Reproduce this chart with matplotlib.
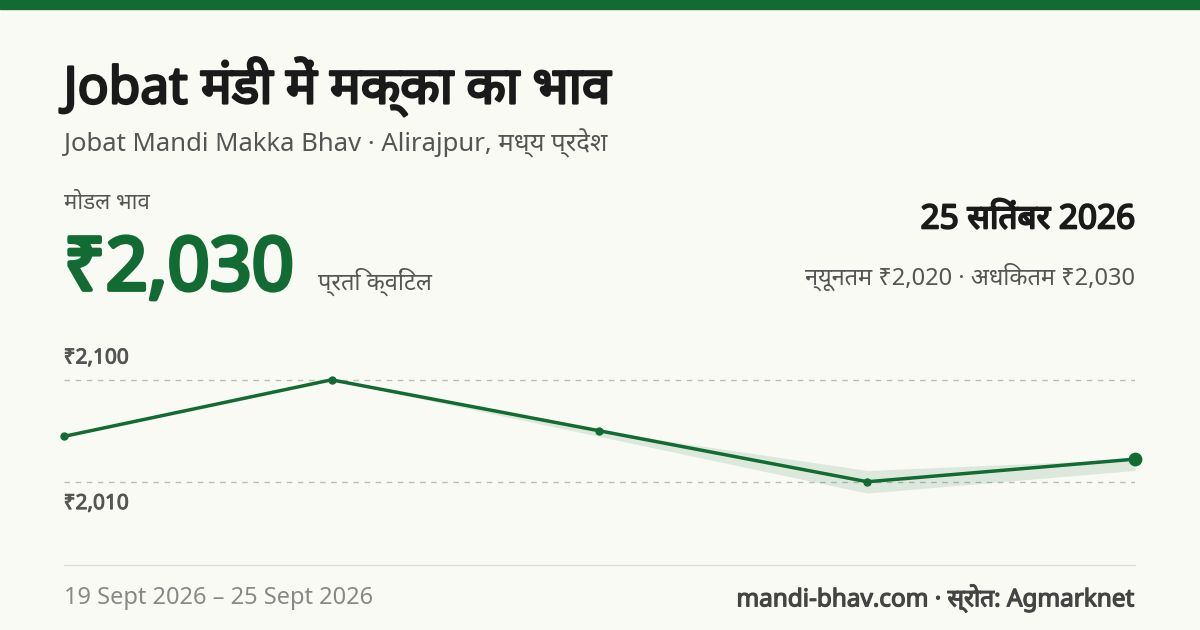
import matplotlib.pyplot as plt
import matplotlib.patheffects as pe

plt.rcParams['font.family'] = ['Noto Sans', 'DejaVu Sans']

dates = ["19 Sept", "21 Sept", "23 Sept", "24 Sept", "25 Sept"]
modal = [2050, 2100, 2055, 2010, 2030]
low = [2050, 2100, 2050, 2000, 2020]
high = [2050, 2100, 2055, 2020, 2030]
ticks = [2010, 2100]
tick_labels = ["₹2,010", "₹2,100"]

green = "#136b34"
bg = "#fafaf5"


def bold(c, w=1.4):
    return [pe.withStroke(linewidth=w, foreground=c)]


fig = plt.figure(figsize=(12, 6.3), dpi=100, facecolor=bg)
fig.add_artist(plt.Rectangle((0, 0.985), 1, 0.015, color=green, transform=fig.transFigure))

fig.text(0.053, 0.862, "Jobat मंडी में मक्का का भाव", fontsize=37, fontweight="bold", color="#1a1a1a",
         va="center", path_effects=bold("#1a1a1a", 1.8))
fig.text(0.053, 0.773, "Jobat Mandi Makka Bhav · Alirajpur, मध्य प्रदेश", fontsize=18.5, color="#555555", va="center")
fig.text(0.053, 0.678, "मोडल भाव", fontsize=16, color="#555555", va="center")
fig.text(0.053, 0.54, "₹2,030", fontsize=53, fontweight="bold", color=green, va="baseline",
         path_effects=bold(green, 3))
fig.text(0.265, 0.54, "प्रति क्विंटल", fontsize=17, color="#555555", va="baseline")
fig.text(0.946, 0.651, "25 सितंबर 2026", fontsize=24, fontweight="bold", color="#1a1a1a", ha="right",
         va="center", path_effects=bold("#1a1a1a", 1.4))
fig.text(0.946, 0.56, "न्यूनतम ₹2,020 · अधिकतम ₹2,030", fontsize=17, color="#555555", ha="right", va="center")
fig.text(0.053, 0.05, "19 Sept 2026 – 25 Sept 2026", fontsize=17, color="#888888", va="center")
fig.text(0.946, 0.05, "mandi-bhav.com · स्रोत: Agmarknet", fontsize=17.5, fontweight="bold", color="#444444",
         ha="right", va="center", path_effects=bold("#444444", 0.9))
fig.add_artist(plt.Line2D([0.053, 0.946], [0.103, 0.103], color="#dddddd", lw=1))

ax = fig.add_axes([0.053, 0.149, 0.893, 0.32])
ax.set_facecolor(bg)
x = list(range(len(modal)))
ax.fill_between(x, low, high, color=green, alpha=0.12, lw=0)
ax.plot(x, modal, color=green, lw=2.5)
ax.scatter(x[:-1], modal[:-1], color=green, s=25, zorder=3, clip_on=False)
ax.scatter(x[-1:], modal[-1:], color=green, s=80, zorder=3, clip_on=False)
ax.axhline(ticks[1], color="#bbbbbb", ls=(0, (4, 4)), lw=1, zorder=0)
ax.axhline(ticks[0], color="#bbbbbb", ls=(0, (4, 4)), lw=1, zorder=0)
ax.text(0, ticks[1] + 10, tick_labels[1], fontsize=15, fontweight="bold", color="#555555", va="bottom",
        path_effects=bold("#555555", 0.7))
ax.text(0, ticks[0] - 10, tick_labels[0], fontsize=15, fontweight="bold", color="#555555", va="top",
        path_effects=bold("#555555", 0.7))
ax.set_xlim(-0.0, 4.0)
ax.set_ylim(1962, 2140)
ax.axis("off")

fig.savefig("out.png", facecolor=bg)
